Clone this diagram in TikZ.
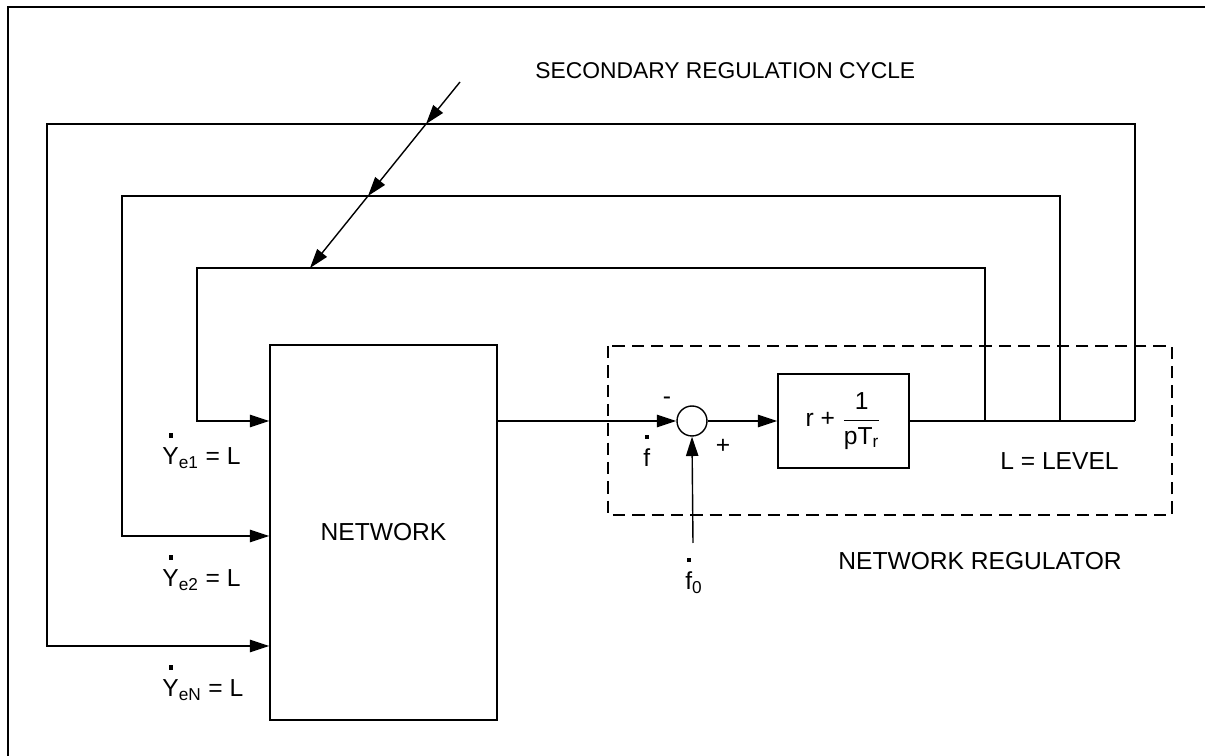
\documentclass[tikz,border=0pt]{standalone}
\usepackage{amsmath}
\usepackage{fontspec}
\setmainfont{Liberation Sans}
\usetikzlibrary{positioning,arrows.meta,calc}
\tikzset{
  blk/.style={draw,line width=0.8pt,inner sep=0pt,align=center},
  wire/.style={line width=0.8pt},
  feed/.style={wire,->},
  lbl/.style={inner sep=0pt,anchor=base west},
}
% letter with a dot above it
\newcommand{\topdot}[1]{\setbox0\hbox{#1}\hbox to\wd0{\hss\raisebox{\dimexpr\ht0+6pt\relax}{\rule{2.3pt}{2.3pt}}\hss}\kern-\wd0\box0}

\begin{document}
\begin{tikzpicture}[x=0.02cm,y=-0.02cm,>={Triangle[length=11pt,width=7pt]},
  every node/.style={font=\fontsize{14}{16}\selectfont}]
  \useasboundingbox (0,0) rectangle (1205,756);
  % frame, left and top only
  \draw[line width=1.3pt] (8,756) -- (8,7) -- (1205,7);
  % blocks
  \node[blk,minimum width=4.54cm,minimum height=7.5cm] (net) at (383.5,532.5) {NETWORK};
  \node[blk,circle,minimum size=0.6cm] (sum) at (692,421) {};
  \node[blk,minimum width=2.62cm,minimum height=1.88cm] (reg) at (843.5,421)
    {r + $\dfrac{\text{1}}{\text{pT\textsubscript{r}}}$};
  \draw[wire,dash pattern=on 7pt off 4pt] (608,346) rectangle (1172,515);
  % main path
  \coordinate (t3) at (985,421);
  \coordinate (t2) at (1060,421);
  \coordinate (t1) at (1135,421);
  \coordinate (f0) at (693,543);
  \draw[feed] (net.east |- sum) -- (sum.west);
  \draw[feed] (sum.east) -- (reg.west);
  \draw[feed] (f0) -- (sum.south);
  \draw[wire] (reg.east) -- (t1);
  % feedback loops
  \foreach \tap/\lx/\ty/\iy in {t3/197/268/421, t2/122/196/536, t1/47/124/646}
    \draw[feed] (\tap) -- (\tap |- 0,\ty) -| (\lx,\iy) -- (net.west |- 0,\iy);
  % secondary regulation arrow
  \coordinate (s0) at (460,82);
  \coordinate (s1) at (426,124);
  \coordinate (s2) at (368,196);
  \coordinate (s3) at (310,268);
  \draw[feed] (s0) -- (s1);
  \draw[feed] (s1) -- (s2);
  \draw[feed] (s2) -- (s3);
  % labels
  \node[lbl,font=\fontsize{13}{15}\selectfont] (cyc) at (535,79) {SECONDARY REGULATION CYCLE};
  \node[lbl] (ye1) at (162,465) {\topdot{Y}\textsubscript{e1} = L};
  \node[lbl] (ye2) at (162,587) {\topdot{Y}\textsubscript{e2} = L};
  \node[lbl] (yen) at (162,697) {\topdot{Y}\textsubscript{eN} = L};
  \node[lbl] (fdot) at (643,467) {\topdot{f}};
  \node[lbl] (f0lbl) at (685,590) {\topdot{f}\textsubscript{0}};
  \node[inner sep=0pt] (minus) at (667,401) {-};
  \node[inner sep=0pt] (plus) at (723,446) {+};
  \node[lbl] (lev) at (1000,470) {L = LEVEL};
  \node[lbl] (regl) at (838,570) {NETWORK REGULATOR};
\end{tikzpicture}
\end{document}
